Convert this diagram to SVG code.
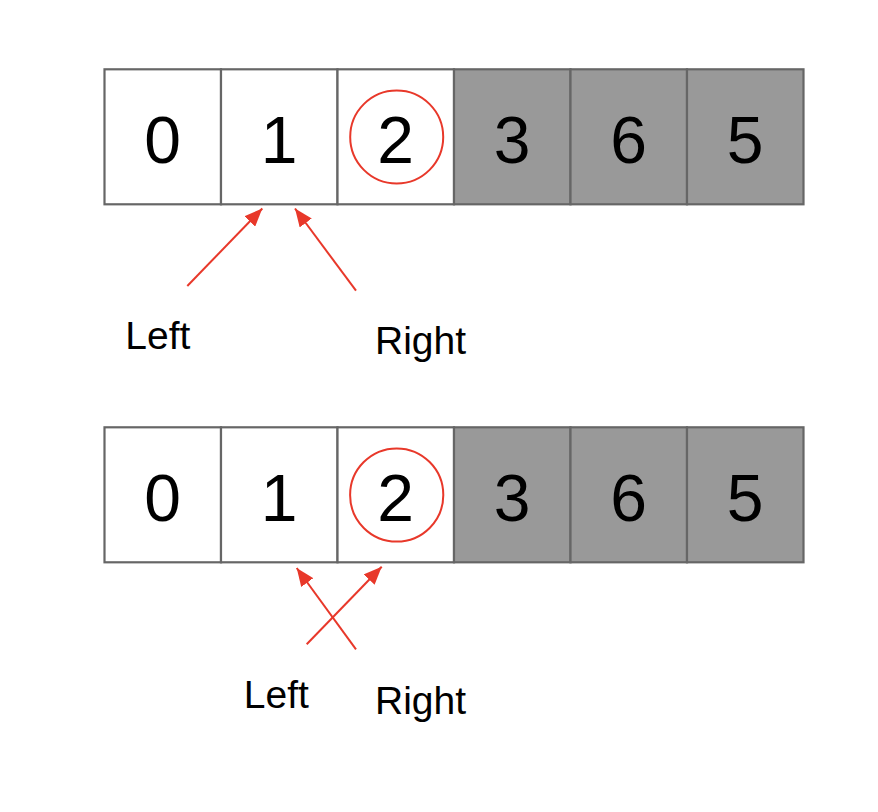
<svg xmlns="http://www.w3.org/2000/svg" width="878" height="812" viewBox="0 0 878 812">
<style>
.cell{stroke:#666666;stroke-width:2.2;}
.w{fill:#ffffff;}
.g{fill:#999999;}
.num{font-family:"Liberation Sans",Arial,sans-serif;font-size:66px;fill:#000;text-anchor:middle;}
.lbl{font-family:"Liberation Sans",Arial,sans-serif;font-size:39px;fill:#000;}
.ring{fill:none;stroke:#e8382a;stroke-width:2;}
.arr{stroke:#e8382a;stroke-width:2;fill:none;marker-end:url(#ah);}
</style>
<defs>
<marker id="ah" markerUnits="userSpaceOnUse" markerWidth="19" markerHeight="15" refX="18" refY="7.5" orient="auto">
<path d="M0,0 L18,7.5 L0,15 Z" fill="#e8382a"/>
</marker>
</defs>
<rect width="878" height="812" fill="#ffffff"/>
<g id="row1">
<g id="r1c0"><rect class="cell w" x="104.5" y="69.3" width="116.5" height="135"/><text class="num" x="162.7" y="162.8">0</text></g>
<g id="r1c1"><rect class="cell w" x="221" y="69.3" width="116.5" height="135"/><text class="num" x="279.2" y="162.8">1</text></g>
<g id="r1c2"><rect class="cell w" x="337.5" y="69.3" width="116.5" height="135"/><text class="num" x="395.7" y="162.8">2</text><circle class="ring" cx="396.7" cy="137" r="46.5"/></g>
<g id="r1c3"><rect class="cell g" x="454" y="69.3" width="116.5" height="135"/><text class="num" x="512.2" y="162.8">3</text></g>
<g id="r1c4"><rect class="cell g" x="570.5" y="69.3" width="116.5" height="135"/><text class="num" x="628.7" y="162.8">6</text></g>
<g id="r1c5"><rect class="cell g" x="687" y="69.3" width="116.5" height="135"/><text class="num" x="745.2" y="162.8">5</text></g>
</g>
<g id="row2">
<g id="r2c0"><rect class="cell w" x="104.5" y="427.3" width="116.5" height="135"/><text class="num" x="162.7" y="520.8">0</text></g>
<g id="r2c1"><rect class="cell w" x="221" y="427.3" width="116.5" height="135"/><text class="num" x="279.2" y="520.8">1</text></g>
<g id="r2c2"><rect class="cell w" x="337.5" y="427.3" width="116.5" height="135"/><text class="num" x="395.7" y="520.8">2</text><circle class="ring" cx="396.7" cy="495" r="46.6"/></g>
<g id="r2c3"><rect class="cell g" x="454" y="427.3" width="116.5" height="135"/><text class="num" x="512.2" y="520.8">3</text></g>
<g id="r2c4"><rect class="cell g" x="570.5" y="427.3" width="116.5" height="135"/><text class="num" x="628.7" y="520.8">6</text></g>
<g id="r2c5"><rect class="cell g" x="687" y="427.3" width="116.5" height="135"/><text class="num" x="745.2" y="520.8">5</text></g>
</g>
<g id="connectors">
<line class="arr" x1="187.3" y1="286" x2="262.3" y2="208.5"/>
<line class="arr" x1="356" y1="290.7" x2="295" y2="208.5"/>
<line class="arr" x1="356" y1="649.3" x2="296.7" y2="568"/>
<line class="arr" x1="306.7" y1="644.3" x2="381.7" y2="566.7"/>
</g>
<g id="labels">
<text class="lbl" x="125.3" y="349.3">Left</text>
<text class="lbl" x="375" y="354.2">Right</text>
<text class="lbl" x="243.8" y="708.3">Left</text>
<text class="lbl" x="375" y="713.8">Right</text>
</g>
</svg>
